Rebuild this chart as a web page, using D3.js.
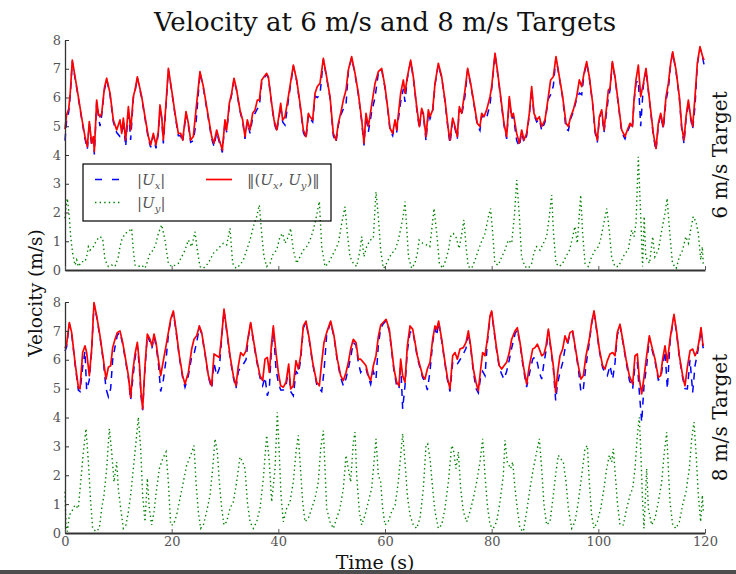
<!DOCTYPE html>
<html>
<head>
<meta charset="utf-8">
<script src="https://cdn.jsdelivr.net/npm/d3@7"></script>
<style>
  html, body { margin: 0; padding: 0; background: #fff; }
  svg { display: block; }
</style>
</head>
<body>
<svg id="chart" width="736" height="574"></svg>
<script>
// ---------------- data ----------------
const xTicks = [0, 20, 40, 60, 80, 100, 120];
const yTicks = [0, 1, 2, 3, 4, 5, 6, 7, 8];
const panelLabels = ["6 m/s Target", "8 m/s Target"];

// 6 m/s run: sample times (s), speed ||(Ux,Uy)|| and |Ux| (m/s)
const topTime = [
  0, 0.3, 0.7, 1.0, 1.37, 2.5, 3.1, 3.75, 4.19, 4.56,
  5.0, 5.31, 5.5, 5.94, 6.25, 6.56, 6.88, 7.38, 7.81, 8.44,
  9.06, 9.69, 10.31, 10.63, 10.94, 11.38, 11.88, 12.31, 12.81, 13.13,
  13.56, 14.38, 15.0, 15.63, 16.06, 16.56, 17.06, 17.5, 17.81, 18.13,
  18.44, 18.94, 19.38, 20.0, 20.63, 21.25, 21.69, 22.06, 22.69, 23.13,
  23.56, 24.06, 24.56, 25.31, 25.94, 26.56, 27.5, 27.94, 28.44, 28.94,
  29.5, 30.0, 30.31, 30.81, 31.25, 31.69, 32.19, 32.81, 33.31, 33.75,
  34.19, 34.69, 35.19, 35.63, 36.06, 36.44, 36.88, 37.31, 37.81, 38.13,
  38.75, 39.19, 39.69, 40.19, 40.44, 40.81, 41.25, 41.88, 42.81, 43.44,
  44.06, 44.69, 45.19, 45.63, 45.94, 46.44, 46.88, 47.31, 47.81, 48.44,
  49.06, 49.69, 50.31, 50.81, 51.25, 51.69, 52.19, 52.69, 53.13, 53.75,
  54.38, 55.0, 55.63, 56.06, 56.44, 56.88, 57.5, 58.13, 58.75, 59.38,
  60.0, 60.63, 60.94, 61.44, 61.88, 62.19, 62.94, 63.44, 63.75, 64.19,
  64.81, 65.31, 65.94, 66.44, 66.88, 67.19, 67.69, 68.13, 68.44, 68.94,
  69.38, 70.0, 70.63, 71.25, 71.88, 72.19, 72.69, 73.13, 73.56, 73.94,
  74.38, 75.0, 75.5, 76.06, 76.69, 77.31, 77.81, 78.13, 78.56, 79.06,
  79.69, 80.0, 80.63, 81.06, 81.69, 82.31, 82.81, 83.31, 83.75, 84.06,
  84.69, 85.19, 85.63, 86.06, 86.56, 87.06, 87.5, 87.94, 88.44, 88.94,
  89.38, 90.0, 90.63, 91.06, 91.56, 92.06, 92.69, 93.31, 93.94, 94.38,
  94.81, 95.31, 95.94, 96.44, 96.88, 97.31, 97.81, 98.31, 98.94, 99.38,
  99.81, 100.19, 100.63, 101.06, 101.56, 101.88, 102.19, 102.63, 103.13, 103.75,
  104.38, 105.0, 105.44, 105.94, 106.38, 106.69, 107.06, 107.5, 107.94, 108.44,
  108.94, 109.38, 109.81, 110.31, 110.81, 111.25, 111.69, 112.19, 112.69, 113.13,
  113.56, 113.94, 114.56, 115.19, 115.63, 116.06, 116.44, 116.88, 117.31, 117.69,
  118.13, 118.56, 119.06, 119.56, 119.81
];
const topSpeed = [
  4.9, 5.4, 5.6, 6.2, 7.3, 6.03, 5.33, 4.64, 4.29, 5.16,
  4.41, 4.64, 4.12, 5.91, 5.45, 5.33, 5.45, 6.32, 6.67, 6.15,
  5.22, 4.87, 5.22, 4.75, 5.28, 4.52, 5.68, 4.87, 6.03, 6.26,
  6.72, 6.03, 5.33, 4.64, 4.35, 4.75, 4.35, 4.81, 5.74, 5.33,
  4.52, 5.80, 7.01, 6.26, 5.45, 4.75, 4.75, 4.52, 5.51, 5.10,
  4.52, 4.64, 5.57, 6.90, 6.38, 5.68, 4.64, 4.41, 4.87, 4.52,
  4.17, 5.22, 4.87, 5.80, 6.15, 6.67, 6.26, 5.57, 5.22, 4.64,
  5.22, 4.87, 5.45, 5.57, 5.91, 5.91, 6.61, 6.72, 6.84, 6.72,
  5.80, 5.22, 4.87, 5.45, 5.80, 5.22, 5.33, 6.03, 7.13, 6.61,
  5.80, 4.87, 4.64, 5.45, 5.33, 5.22, 6.15, 6.38, 6.49, 7.36,
  6.72, 6.03, 4.75, 4.52, 5.10, 5.45, 5.91, 6.26, 6.96, 7.42,
  6.84, 6.15, 5.22, 4.41, 5.45, 4.99, 5.74, 6.49, 6.90, 7.01,
  6.38, 5.45, 4.93, 4.75, 5.22, 4.87, 6.15, 6.61, 6.15, 6.72,
  7.30, 6.72, 5.68, 4.99, 5.62, 5.45, 4.64, 5.57, 5.33, 5.57,
  6.49, 7.19, 6.72, 5.91, 4.87, 4.52, 5.28, 4.99, 4.64, 5.68,
  5.45, 6.26, 7.01, 6.49, 5.80, 5.10, 4.99, 5.45, 5.33, 5.57,
  6.03, 6.38, 7.54, 6.96, 6.03, 5.10, 4.64, 6.03, 5.33, 5.45,
  4.75, 4.41, 4.87, 4.52, 4.75, 5.45, 6.38, 5.45, 5.22, 5.33,
  4.99, 5.22, 6.03, 6.61, 6.72, 7.42, 6.72, 6.03, 5.10, 4.99,
  5.33, 5.57, 6.03, 6.61, 6.38, 6.84, 7.25, 6.72, 5.80, 4.87,
  4.52, 5.33, 5.57, 4.87, 5.68, 6.26, 6.32, 7.25, 6.72, 5.80,
  4.87, 4.64, 4.87, 5.10, 4.99, 5.91, 6.61, 7.13, 6.03, 6.49,
  7.01, 6.26, 5.57, 4.75, 4.23, 5.10, 5.45, 4.99, 6.03, 6.49,
  7.19, 7.59, 6.96, 6.03, 4.99, 4.52, 5.33, 5.91, 5.33, 4.99,
  6.03, 7.19, 7.77, 7.42, 7.30
];
const topUx = [
  4.5, 5.2, 5.5, 6.1, 7.25, 5.98, 5.28, 4.56, 4.2, 5.1,
  4.33, 4.56, 4.02, 5.85, 5.38, 5.0, 5.38, 6.25, 6.62, 6.1,
  5.15, 4.78, 4.64, 4.66, 5.2, 4.29, 5.6, 4.52, 5.97, 6.2,
  6.68, 5.98, 5.27, 4.56, 4.27, 4.67, 4.23, 4.73, 5.66, 5.26,
  4.4, 5.72, 6.97, 6.22, 5.4, 4.67, 4.67, 4.44, 5.44, 5.03,
  4.44, 4.5, 5.1, 6.86, 6.33, 5.62, 4.56, 4.3, 4.79, 4.44,
  4.09, 5.15, 4.79, 5.72, 6.1, 6.63, 6.22, 5.52, 5.16, 4.56,
  5.15, 4.75, 5.3, 5.45, 5.6, 5.7, 6.5, 6.68, 6.8, 6.68,
  5.75, 5.16, 4.79, 5.38, 5.73, 5.15, 5.04, 5.9, 7.09, 6.57,
  5.75, 4.79, 4.56, 5.38, 5.27, 5.15, 6.05, 6.0, 6.1, 7.32,
  6.68, 5.98, 4.67, 4.44, 5.03, 5.38, 5.6, 5.75, 6.9, 7.38,
  6.8, 6.1, 5.16, 4.33, 5.38, 4.8, 5.5, 6.0, 6.85, 6.97,
  6.33, 5.4, 4.85, 4.67, 5.15, 4.79, 5.85, 6.3, 5.85, 6.66,
  7.26, 6.68, 5.62, 4.91, 5.55, 5.38, 4.5, 5.5, 5.26, 5.5,
  6.44, 7.15, 6.68, 5.86, 4.79, 4.4, 5.2, 4.91, 4.56, 5.6,
  5.38, 6.05, 6.97, 6.45, 5.75, 5.03, 4.85, 5.38, 5.26, 5.3,
  5.75, 6.3, 7.5, 6.92, 5.98, 5.03, 4.56, 5.95, 5.26, 5.38,
  4.5, 4.3, 4.79, 4.44, 4.67, 5.38, 6.3, 5.38, 5.15, 5.26,
  4.85, 5.15, 5.95, 6.1, 6.4, 7.38, 6.68, 5.98, 4.9, 4.85,
  5.26, 5.5, 5.95, 6.15, 6.1, 6.78, 7.21, 6.68, 5.75, 4.79,
  4.44, 5.26, 5.5, 4.79, 5.5, 6.0, 6.25, 7.21, 6.68, 5.75,
  4.79, 4.56, 4.79, 5.03, 4.9, 5.84, 6.5, 6.6, 5.0, 6.4,
  6.97, 6.22, 5.52, 4.67, 4.15, 5.03, 5.38, 4.91, 5.9, 6.3,
  7.15, 7.55, 6.92, 5.98, 4.91, 4.4, 5.26, 5.85, 5.26, 4.9,
  5.7, 7.15, 7.73, 7.38, 7.15
];
// 6 m/s run: |Uy| as [time (s), value (m/s)]
const topUy = [
  [0,1.8],[0.19,2.2],[0.44,2.49],[0.81,1.86],[1.06,1.16],[1.44,0.58],[1.88,0.17],[2.19,0.35],[2.5,0.12],[3.13,0.29],
  [3.75,0.29],[4.06,0.46],[4.38,0.81],[4.69,0.69],[5.31,0.81],[5.94,1.04],[6.56,1.16],[7.06,1.10],[7.5,0.35],[8.13,0.12],
  [8.75,0.17],[9.38,0.12],[10.0,0.46],[10.31,0.81],[10.63,1.04],[11.25,1.27],[11.88,1.33],[12.5,1.45],[12.81,0.69],[13.13,0.17],
  [13.75,0.12],[14.38,0.17],[15.0,0.06],[15.44,0.29],[15.94,0.58],[16.56,0.69],[17.06,0.93],[17.5,1.27],[18.13,1.57],[18.75,1.04],
  [19.38,0.23],[20.0,0.12],[20.63,0.17],[21.25,0.23],[21.88,0.46],[22.5,0.69],[23.13,1.04],[23.75,0.81],[24.38,1.33],[24.81,0.69],
  [25.31,0.12],[25.94,0.06],[26.56,0.17],[27.19,0.35],[27.81,0.58],[28.44,0.69],[29.06,0.81],[29.69,0.93],[30.31,0.87],[30.94,1.45],
  [31.44,0.23],[32.06,0.06],[32.81,0.17],[33.44,0.35],[34.06,0.69],[34.69,1.04],[35.31,1.51],[35.94,1.86],[36.44,2.26],[36.88,1.27],
  [37.31,0.46],[37.81,0.12],[38.44,0.23],[39.06,0.58],[39.69,0.69],[40.31,1.16],[40.81,1.27],[41.25,0.93],[41.88,1.16],[42.31,1.45],
  [42.81,0.69],[43.44,0.23],[44.06,0.46],[44.69,0.69],[45.31,0.81],[45.94,1.04],[46.56,1.39],[47.19,1.91],[47.69,2.38],[48.13,0.81],
  [48.75,0.12],[49.38,0.23],[50.0,0.46],[50.63,0.69],[51.25,0.93],[51.88,1.62],[52.5,2.20],[52.94,1.27],[53.44,0.46],[54.06,0.23],
  [54.69,0.12],[55.31,0.69],[55.63,1.16],[56.06,0.46],[56.56,0.81],[57.19,1.04],[57.81,1.10],[58.31,2.72],[58.75,1.86],[59.19,0.69],
  [59.69,0.06],[60.0,0.12],[60.6,0.35],[61.25,0.58],[61.9,0.69],[62.5,1.04],[62.9,1.39],[63.4,1.86],[63.75,2.38],[64.06,1.51],
  [64.4,0.46],[65.0,0.06],[65.6,0.23],[66.06,0.58],[66.4,1.04],[67.06,0.93],[67.8,0.87],[68.4,0.81],[68.75,1.39],[69.2,2.14],
  [69.7,1.27],[70.2,0.23],[70.8,0.06],[71.4,0.35],[71.9,0.69],[72.3,1.16],[72.8,1.27],[73.3,1.16],[73.9,0.75],[74.4,1.27],
  [74.8,1.74],[75.2,0.81],[75.6,0.12],[76.25,0.06],[76.9,0.35],[77.5,0.69],[78.1,0.99],[78.75,1.27],[79.4,1.86],[79.8,2.14],
  [80.2,1.27],[80.6,0.23],[81.25,0.17],[81.9,0.46],[82.5,0.69],[83.1,1.04],[83.75,0.93],[84.25,1.86],[84.7,3.13],[85.2,1.86],
  [85.6,0.46],[86.25,0.12],[86.9,0.06],[87.5,0.23],[87.9,0.58],[88.4,0.81],[89.06,0.69],[89.7,0.93],[90.3,1.16],[90.8,1.86],
  [91.25,2.61],[91.6,1.27],[92.06,0.23],[92.7,0.12],[93.3,0.23],[93.9,0.46],[94.6,0.69],[95.2,1.16],[95.6,1.51],[96.06,0.93],
  [96.4,1.86],[96.7,2.61],[97.06,1.27],[97.5,0.23],[98.1,0.12],[98.75,0.46],[99.4,0.69],[100.0,0.81],[100.4,1.04],[100.9,1.51],
  [101.6,2.14],[102.1,1.27],[102.5,0.46],[103.1,0.12],[103.75,0.12],[104.4,0.35],[105.0,0.58],[105.6,0.69],[106.25,1.39],[106.7,1.16],
  [107.06,1.62],[107.5,3.94],[107.9,2.09],[108.3,0.12],[108.6,1.86],[108.9,0.46],[109.6,0.23],[110.2,1.16],[110.6,0.46],[111.25,0.69],
  [111.9,1.39],[112.5,1.97],[112.9,2.49],[113.4,1.27],[113.9,0.23],[114.6,0.06],[115.2,0.46],[115.8,0.69],[116.4,1.16],[116.9,0.93],
  [117.3,1.39],[117.8,1.86],[118.3,1.68],[118.75,1.27],[119.2,0.35],[119.5,0.81],[119.7,0.12]
];

// 8 m/s run: sample times (s), speed ||(Ux,Uy)|| and |Ux| (m/s)
const bottomTime = [
  0, 0.31, 0.81, 1.25, 1.88, 2.5, 2.81, 3.31, 3.75, 4.06,
  4.56, 5.0, 5.44, 5.94, 6.56, 7.19, 7.69, 8.13, 8.56, 8.94,
  9.38, 9.81, 10.31, 10.81, 11.25, 11.88, 12.31, 12.69, 13.13, 13.56,
  13.94, 14.25, 14.56, 15.0, 15.44, 15.94, 16.31, 16.69, 17.06, 17.5,
  17.94, 18.44, 18.94, 19.38, 19.81, 20.31, 20.81, 21.44, 22.06, 22.5,
  23.13, 23.75, 24.19, 24.69, 25.19, 25.63, 26.25, 26.88, 27.5, 27.94,
  28.44, 28.94, 29.38, 29.81, 30.31, 30.94, 31.56, 32.06, 32.5, 32.94,
  33.44, 33.94, 34.38, 34.81, 35.31, 35.94, 36.56, 37.06, 37.5, 37.94,
  38.31, 38.75, 39.06, 39.56, 40.0, 40.44, 40.94, 41.44, 41.94, 42.31,
  42.81, 43.31, 43.75, 44.19, 44.69, 45.19, 45.81, 46.44, 47.19, 47.69,
  48.13, 48.56, 49.06, 49.81, 50.44, 51.06, 51.69, 52.19, 52.69, 53.13,
  53.56, 54.06, 54.56, 55.0, 55.44, 55.94, 56.44, 56.88, 57.31, 57.81,
  58.31, 58.75, 59.2, 59.7, 60.2, 60.8, 61.25, 61.69, 62.19, 62.63,
  62.94, 63.31, 63.75, 64.19, 64.69, 65.19, 65.63, 66.06, 66.56, 67.06,
  67.5, 67.94, 68.44, 68.94, 69.38, 69.69, 70.06, 70.63, 71.25, 71.75,
  72.19, 72.69, 73.13, 73.56, 74.06, 74.69, 75.19, 75.63, 76.06, 76.56,
  77.06, 77.5, 77.94, 78.31, 78.75, 79.19, 79.69, 80.0, 80.44, 80.94,
  81.44, 81.88, 82.31, 82.81, 83.31, 83.75, 84.38, 84.81, 85.31, 85.94,
  86.56, 87.06, 87.69, 88.13, 88.56, 88.94, 89.38, 89.81, 90.19, 90.63,
  91.06, 91.56, 92.0, 92.38, 92.81, 93.31, 93.75, 94.19, 94.69, 95.19,
  95.63, 96.25, 96.75, 97.19, 97.69, 98.31, 98.75, 99.19, 99.69, 100.19,
  100.81, 101.25, 101.69, 102.19, 102.69, 103.13, 103.56, 104.06, 104.56, 105.19,
  105.81, 106.44, 106.88, 107.31, 107.69, 108.13, 108.56, 109.06, 109.56, 110.0,
  110.63, 111.25, 111.69, 112.06, 112.5, 112.94, 113.44, 113.94, 114.19, 114.69,
  115.19, 115.81, 116.25, 116.69, 117.19, 117.69, 118.13, 118.56, 118.94, 119.25,
  119.56, 119.69
];
const bottomSpeed = [
  6.4, 6.55, 7.29, 6.94, 5.91, 5.05, 4.99, 6.25, 6.48, 6.25,
  5.45, 6.37, 7.98, 7.52, 6.83, 6.02, 5.33, 5.74, 5.79, 6.42,
  6.71, 6.94, 7.00, 6.60, 6.14, 5.45, 4.70, 5.56, 6.20, 6.60,
  5.91, 4.87, 4.30, 5.79, 6.89, 6.71, 6.48, 6.89, 6.60, 6.02,
  5.45, 5.97, 6.48, 6.94, 7.40, 7.69, 7.06, 6.14, 5.45, 5.16,
  5.56, 6.37, 6.71, 6.83, 7.17, 6.94, 6.25, 5.45, 5.10, 6.20,
  6.14, 6.08, 6.83, 7.75, 7.06, 6.14, 5.45, 5.10, 5.79, 6.25,
  6.14, 6.31, 6.83, 7.29, 6.71, 6.02, 5.45, 5.28, 6.02, 6.08,
  5.56, 6.60, 7.17, 6.25, 5.56, 5.10, 5.05, 5.22, 5.85, 4.99,
  5.10, 5.97, 5.68, 6.14, 7.17, 7.34, 6.71, 5.91, 5.22, 5.10,
  5.91, 6.60, 6.94, 7.34, 6.83, 6.02, 5.45, 5.28, 5.56, 5.91,
  6.37, 6.71, 6.60, 6.02, 6.02, 5.91, 5.79, 5.45, 5.28, 5.79,
  6.14, 6.8, 7.2, 7.3, 7.4, 7.06, 6.37, 5.68, 5.22, 5.10,
  6.02, 5.45, 5.22, 6.48, 7.17, 7.06, 6.60, 6.14, 5.79, 5.45,
  5.33, 5.68, 5.91, 6.71, 7.17, 7.06, 7.34, 6.71, 5.91, 5.33,
  4.99, 6.14, 6.25, 6.02, 6.37, 6.42, 6.60, 7.00, 6.48, 5.68,
  5.22, 4.93, 5.68, 6.25, 6.14, 6.71, 7.52, 7.69, 7.06, 6.37,
  5.79, 5.68, 5.79, 5.91, 6.25, 6.71, 7.00, 7.11, 6.60, 5.79,
  5.16, 5.79, 6.37, 6.42, 6.54, 6.37, 6.14, 6.20, 6.48, 7.06,
  6.48, 5.79, 4.87, 5.56, 6.14, 6.37, 6.83, 6.60, 6.94, 7.00,
  6.48, 5.79, 5.33, 5.45, 6.14, 6.71, 7.29, 7.69, 7.06, 6.37,
  5.79, 5.68, 5.97, 6.20, 6.25, 6.14, 6.94, 7.23, 6.71, 6.02,
  5.45, 5.16, 6.14, 6.20, 5.33, 4.82, 5.39, 6.14, 6.83, 6.48,
  6.02, 5.39, 5.45, 6.02, 6.48, 5.91, 6.71, 7.29, 7.57, 6.94,
  6.14, 5.45, 5.10, 5.74, 6.31, 6.37, 6.14, 6.31, 6.71, 7.11,
  6.60, 6.48
];
const bottomUx = [
  6.3, 6.45, 7.25, 6.9, 5.85, 4.95, 4.9, 5.74, 6.3, 4.95,
  5.3, 6.3, 7.94, 7.48, 6.78, 5.95, 5.0, 4.72, 5.0, 6.0,
  6.45, 6.85, 6.95, 6.55, 6.08, 5.38, 4.6, 5.3, 6.05, 6.5,
  5.75, 4.75, 4.25, 5.7, 6.85, 6.6, 6.4, 6.8, 6.5, 5.9,
  4.9, 5.3, 6.0, 6.85, 7.35, 7.65, 7.0, 6.08, 5.38, 5.05,
  5.45, 6.1, 6.2, 6.6, 7.12, 6.9, 6.2, 5.4, 5.0, 5.9,
  5.45, 5.7, 6.75, 7.7, 7.0, 6.08, 5.38, 5.0, 5.6, 5.74,
  5.85, 6.0, 6.78, 7.25, 6.65, 5.95, 5.38, 5.1, 5.4, 4.75,
  5.0, 6.5, 7.1, 5.68, 5.2, 4.95, 4.95, 5.1, 5.7, 4.9,
  4.75, 5.6, 5.5, 6.0, 7.1, 7.3, 6.65, 5.85, 5.15, 5.0,
  4.9, 5.6, 6.85, 7.3, 6.78, 5.95, 5.38, 5.1, 5.35, 5.7,
  6.08, 6.6, 6.5, 5.9, 5.56, 5.7, 5.7, 5.38, 5.15, 5.6,
  5.33, 6.5, 7.1, 7.25, 7.35, 7.0, 6.3, 5.6, 5.1, 4.99,
  5.9, 4.3, 5.1, 6.3, 6.94, 7.0, 6.55, 6.08, 5.72, 5.38,
  5.25, 4.95, 5.6, 6.6, 7.1, 6.83, 7.3, 6.65, 5.85, 5.25,
  4.9, 5.9, 5.79, 5.85, 6.0, 6.2, 6.4, 6.95, 6.42, 5.6,
  5.0, 4.85, 5.4, 5.6, 5.45, 6.6, 7.45, 7.65, 7.0, 6.3,
  5.72, 5.5, 5.33, 5.6, 6.0, 6.4, 6.9, 7.05, 6.55, 5.7,
  5.05, 5.5, 6.02, 6.1, 5.9, 5.56, 5.33, 5.9, 6.3, 7.0,
  6.4, 5.7, 4.59, 5.2, 5.56, 5.9, 6.37, 6.5, 6.9, 6.95,
  6.42, 5.7, 4.87, 5.0, 5.8, 6.6, 7.25, 7.65, 7.0, 6.3,
  5.72, 5.55, 5.45, 5.8, 5.33, 5.9, 6.85, 7.18, 6.65, 5.95,
  5.3, 5.0, 5.79, 5.9, 4.87, 3.84, 5.1, 5.79, 6.75, 6.4,
  5.95, 5.3, 5.35, 5.79, 6.3, 4.99, 6.6, 7.25, 7.53, 6.9,
  6.08, 5.38, 5.0, 4.99, 6.0, 4.87, 5.8, 6.2, 6.6, 7.05,
  6.5, 6.4
];
// 8 m/s run: |Uy| as [time (s), value (m/s)]
const bottomUy = [
  [0,1.43],[0.19,0.28],[0.44,0.05],[0.81,0.62],[1.25,0.74],[1.88,0.97],[2.5,0.85],[2.94,1.77],[3.44,2.81],[3.94,3.61],
  [4.38,2.46],[4.81,1.08],[5.19,0.16],[5.81,0.05],[6.44,0.16],[6.88,0.85],[7.31,1.31],[7.81,2.23],[8.31,3.61],[8.75,2.81],
  [9.19,1.77],[9.69,2.46],[10.0,1.54],[10.44,0.85],[10.94,0.16],[11.44,0.28],[11.88,0.74],[12.31,1.31],[12.81,2.23],[13.31,3.15],
  [13.75,4.01],[14.19,2.92],[14.56,1.31],[15.0,0.39],[15.44,1.89],[15.81,0.85],[16.25,0.28],[16.69,0.74],[17.19,1.54],[17.69,2.23],
  [18.31,2.57],[18.94,2.81],[19.38,1.77],[19.81,0.28],[20.31,0.28],[20.94,0.62],[21.56,1.20],[22.19,1.77],[22.81,2.35],[23.56,2.69],
  [24.19,3.03],[24.56,1.77],[25.0,0.74],[25.44,0.16],[25.94,0.28],[26.56,0.74],[27.19,1.31],[27.69,2.23],[28.13,3.26],[28.56,2.81],
  [28.94,1.77],[29.38,0.85],[29.81,0.28],[30.31,0.39],[30.94,0.85],[31.56,1.08],[32.19,1.77],[32.81,2.63],[33.31,2.46],[33.75,2.23],
  [34.19,1.08],[34.69,0.39],[35.31,0.16],[35.94,0.39],[36.56,0.85],[37.19,1.89],[37.81,3.38],[38.31,2.46],[38.75,1.08],[39.38,2.23],
  [39.81,4.18],[40.19,2.69],[40.5,1.31],[40.94,0.39],[41.56,0.85],[42.19,1.08],[42.81,1.77],[43.31,2.81],[43.75,3.38],[44.19,2.12],
  [44.56,1.08],[45.0,0.39],[45.63,0.51],[46.25,0.85],[46.88,1.20],[47.5,1.77],[47.94,2.92],[48.44,3.55],[48.75,2.23],[49.06,0.85],
  [49.69,0.39],[50.31,0.16],[50.94,0.51],[51.56,0.85],[52.19,1.54],[52.69,2.69],[53.13,2.23],[53.56,1.77],[54.06,3.15],[54.38,3.49],
  [54.69,2.0],[55.19,0.74],[55.63,0.28],[56.25,0.62],[56.88,1.08],[57.5,1.54],[57.94,2.46],[58.31,3.26],[58.75,2.0],[59.19,1.77],
  [59.56,0.85],[60.0,0.28],[60.6,0.39],[61.25,0.74],[61.9,0.97],[62.5,1.77],[62.94,2.69],[63.31,3.44],[63.75,2.46],[64.19,1.31],
  [64.69,0.62],[65.31,0.28],[65.94,0.16],[66.56,0.51],[67.19,1.54],[67.69,3.03],[68.0,3.09],[68.44,2.57],[68.94,1.54],[69.38,0.74],
  [70.0,0.16],[70.63,0.28],[71.25,0.85],[71.88,1.77],[72.5,3.03],[72.81,2.92],[73.31,2.23],[73.75,2.81],[74.19,1.54],[74.69,0.74],
  [75.31,0.39],[75.94,0.74],[76.56,1.20],[77.19,1.77],[77.81,2.46],[78.31,3.26],[78.75,2.0],[79.19,0.97],[79.69,0.28],[80.31,0.16],
  [80.94,0.39],[81.56,1.08],[82.19,2.0],[82.5,3.21],[82.94,2.46],[83.56,2.23],[83.94,2.46],[84.38,1.54],[84.81,0.85],[85.31,0.16],
  [85.94,0.05],[86.56,0.74],[87.19,1.54],[87.81,2.23],[88.44,2.81],[88.94,3.26],[89.38,2.23],[89.81,0.97],[90.31,0.28],[90.94,0.39],
  [91.56,1.31],[92.06,2.12],[92.5,2.69],[92.94,2.57],[93.44,2.46],[93.94,1.77],[94.38,0.85],[95.0,0.16],[95.63,0.39],[96.25,1.08],
  [96.88,2.0],[97.5,2.92],[97.94,3.03],[98.31,1.77],[98.75,0.62],[99.19,0.16],[99.81,0.39],[100.44,0.85],[101.06,1.54],[101.56,2.23],
  [102.06,2.69],[102.5,2.46],[102.81,2.92],[103.19,2.0],[103.56,1.08],[104.06,0.28],[104.69,0.28],[105.31,0.85],[105.94,1.31],[106.44,1.54],
  [106.88,2.23],[107.31,3.38],[107.69,4.01],[107.94,2.92],[108.25,1.31],[108.56,0.16],[109.06,2.23],[109.38,0.85],[110.0,0.28],[110.63,0.51],
  [111.25,1.08],[111.88,1.77],[112.31,2.69],[112.81,3.49],[113.13,2.23],[113.44,1.08],[113.94,0.28],[114.56,0.16],[115.19,0.39],[115.81,0.97],
  [116.44,1.43],[117.06,2.23],[117.5,3.26],[117.94,3.84],[118.31,2.81],[118.75,1.31],[119.19,0.39],[119.5,1.31],[119.69,0.74]
];

// ---------------- drawing ----------------
const SERIF = "'DejaVu Serif', 'Liberation Serif', serif";
const COLORS = { ux: "#0000ff", uy: "#008000", speed: "#ff0000" };
const svg = d3.select("#chart");

svg.append("rect").attr("width", 736).attr("height", 574).attr("fill", "#fff");

const x = d3.scaleLinear().domain([0, 120]).range([65, 705]);

const panels = [
  { top: 40, bottom: 270, time: topTime, speed: topSpeed, ux: topUx, uy: topUy,
    label: panelLabels[0], showXLabels: false },
  { top: 302, bottom: 533, time: bottomTime, speed: bottomSpeed, ux: bottomUx, uy: bottomUy,
    label: panelLabels[1], showXLabels: true }
];

panels.forEach(p => {
  const y = d3.scaleLinear().domain([0, 8]).range([p.bottom, p.top]);
  const g = svg.append("g");

  const lineIdx = vals => d3.line()
    .x((d, i) => x(p.time[i]))
    .y(d => y(d))(vals);
  const linePairs = d3.line().x(d => x(d[0])).y(d => y(d[1]));

  // |Ux| dashed
  g.append("path").attr("d", lineIdx(p.ux))
    .attr("fill", "none").attr("stroke", COLORS.ux)
    .attr("stroke-width", 1.5).attr("stroke-dasharray", "7,6");
  // |Uy| dotted
  g.append("path").attr("d", linePairs(p.uy))
    .attr("fill", "none").attr("stroke", COLORS.uy)
    .attr("stroke-width", 1.4).attr("stroke-dasharray", "1.4,3");
  // speed solid
  g.append("path").attr("d", lineIdx(p.speed))
    .attr("fill", "none").attr("stroke", COLORS.speed)
    .attr("stroke-width", 1.7).attr("stroke-linejoin", "round");

  // left axis
  const yAxis = d3.axisLeft(y).tickValues(yTicks).tickFormat(d3.format("d"))
    .tickSizeInner(-4).tickSizeOuter(0).tickPadding(4);
  const ya = svg.append("g").attr("transform", `translate(${x(0)},0)`).call(yAxis);
  ya.select(".domain").attr("stroke", "#333").attr("stroke-width", 1.3);
  ya.selectAll(".tick line").attr("stroke", "#333");
  ya.selectAll(".tick text").attr("fill", "#555").style("font-family", SERIF).style("font-size", "13px");

  // bottom axis
  const xAxis = d3.axisBottom(x).tickValues(xTicks)
    .tickFormat(p.showXLabels ? d3.format("d") : () => "")
    .tickSizeInner(-4).tickSizeOuter(0).tickPadding(4);
  const xa = svg.append("g").attr("transform", `translate(0,${p.bottom})`).call(xAxis);
  xa.select(".domain").attr("stroke", "#333").attr("stroke-width", 2.2);
  xa.selectAll(".tick line").attr("stroke", "#555");
  xa.selectAll(".tick text").attr("fill", "#555").style("font-family", SERIF).style("font-size", "13px");

  // panel caption on the right
  const cy = (p.top + p.bottom) / 2;
  svg.append("text")
    .attr("transform", `translate(727,${cy}) rotate(-90)`)
    .attr("text-anchor", "middle")
    .style("font-family", SERIF).style("font-size", "20px").attr("fill", "#111")
    .text(p.label);
});

// title and axis titles
svg.append("text").attr("x", 385).attr("y", 31).attr("text-anchor", "middle")
  .style("font-family", SERIF).style("font-size", "26px").attr("fill", "#111")
  .text("Velocity at 6 m/s and 8 m/s Targets");
svg.append("text").attr("transform", "translate(42,293) rotate(-90)").attr("text-anchor", "middle")
  .style("font-family", SERIF).style("font-size", "18.5px").attr("fill", "#111")
  .text("Velocity (m/s)");
svg.append("text").attr("x", 375).attr("y", 569).attr("text-anchor", "middle")
  .style("font-family", SERIF).style("font-size", "19px").attr("fill", "#111")
  .text("Time (s)");

// legend
const leg = svg.append("g");
leg.append("rect").attr("x", 83).attr("y", 164).attr("width", 248).attr("height", 57)
  .attr("fill", "none").attr("stroke", "#000").attr("stroke-width", 1.2);

function mathText(px, py, parts) {
  const t = leg.append("text").attr("x", px).attr("y", py)
    .style("font-family", SERIF).style("font-size", "15px").attr("fill", "#555");
  parts.forEach(([s, kind]) => {
    const ts = t.append("tspan").text(s);
    if (kind === "i") ts.style("font-style", "italic");
    if (kind === "sub") ts.style("font-style", "italic").style("font-size", "10px").attr("dy", 4);
    if (kind === "up") ts.attr("dy", -4);
  });
}
const legendItems = [
  { key: "ux", x: 95, y: 179.5, dash: "7,10", w: 1.5, tx: 137,
    parts: [["|", ""], ["U", "i"], ["x", "sub"], ["|", "up"]] },
  { key: "uy", x: 95, y: 202.5, dash: "1.4,3.2", w: 1.4, tx: 137,
    parts: [["|", ""], ["U", "i"], ["y", "sub"], ["|", "up"]] },
  { key: "speed", x: 206, y: 179.5, dash: null, w: 1.7, tx: 247,
    parts: [["\u2016(", ""], ["U", "i"], ["x", "sub"], [", ", "up"], ["U", "i"], ["y", "sub"], [")\u2016", "up"]] }
];
legendItems.forEach(it => {
  const ln = leg.append("line").attr("x1", it.x).attr("x2", it.x + 26)
    .attr("y1", it.y).attr("y2", it.y)
    .attr("stroke", COLORS[it.key]).attr("stroke-width", it.w);
  if (it.dash) ln.attr("stroke-dasharray", it.dash);
  mathText(it.tx, it.y + 5, it.parts);
});

// dark strip along the lower edge
svg.append("rect").attr("x", 0).attr("y", 570).attr("width", 736).attr("height", 4).attr("fill", "#4d4d4d");
</script>
</body>
</html>
